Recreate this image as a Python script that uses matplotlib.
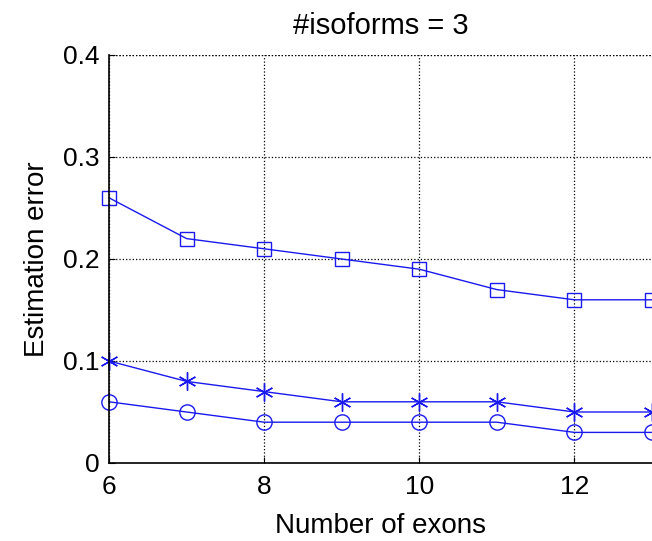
import numpy as np
import matplotlib
matplotlib.use('Agg')
import matplotlib.pyplot as plt

plt.rcParams['font.family'] = ['Liberation Sans', 'DejaVu Sans']

#number of exons
exons = [6, 7, 8, 9, 10, 11, 12, 13]
#estimation errors for the three methods
err_square = [0.26, 0.22, 0.21, 0.20, 0.19, 0.17, 0.16, 0.16]
err_star = [0.10, 0.08, 0.07, 0.06, 0.06, 0.06, 0.05, 0.05]
err_circle = [0.06, 0.05, 0.04, 0.04, 0.04, 0.04, 0.03, 0.03]

xticks = [6, 8, 10, 12]
yticks = [0, 0.1, 0.2, 0.3, 0.4]
ytick_labels = ['0', '0.1', '0.2', '0.3', '0.4']

fig = plt.figure(figsize=(6.52, 5.41), dpi=100)
ax = fig.add_axes([109/652, 1-463/541, 1-109/652, (463-55)/541])

col = '#1a1aee'
ax.plot(exons, err_square, color=col, lw=1, marker='s', ms=10, mfc='none', mew=1, clip_on=False)
ax.plot(exons, err_star, color=col, lw=1, marker=(6, 2, 0), ms=13, mew=1, clip_on=False)
ax.plot(exons, err_circle, color=col, lw=1, marker='o', ms=11, mfc='none', mew=1, clip_on=False)

ax.set_xlim(6, 13)
ax.set_ylim(0, 0.4)
ax.set_xticks(xticks)
ax.set_yticks(yticks)
ax.set_yticklabels(ytick_labels)
ax.grid(True, color='black', linestyle=':', linewidth=0.9)
ax.axhline(0.4, color='black', linestyle=':', linewidth=0.9)
ax.spines['top'].set_visible(False)
ax.spines['right'].set_visible(False)
ax.spines['left'].set_linewidth(1.2)
ax.spines['bottom'].set_linewidth(1.2)
ax.tick_params(direction='in', length=4, labelsize=19)
ax.tick_params(axis='x', pad=9)
ax.tick_params(axis='y', pad=7)

ax.set_title('#isoforms = 3', fontsize=21, pad=15)
ax.set_xlabel('Number of exons', fontsize=20, labelpad=10)
ax.set_ylabel('Estimation error', fontsize=20, labelpad=9)

plt.savefig('out.png', dpi=100)
